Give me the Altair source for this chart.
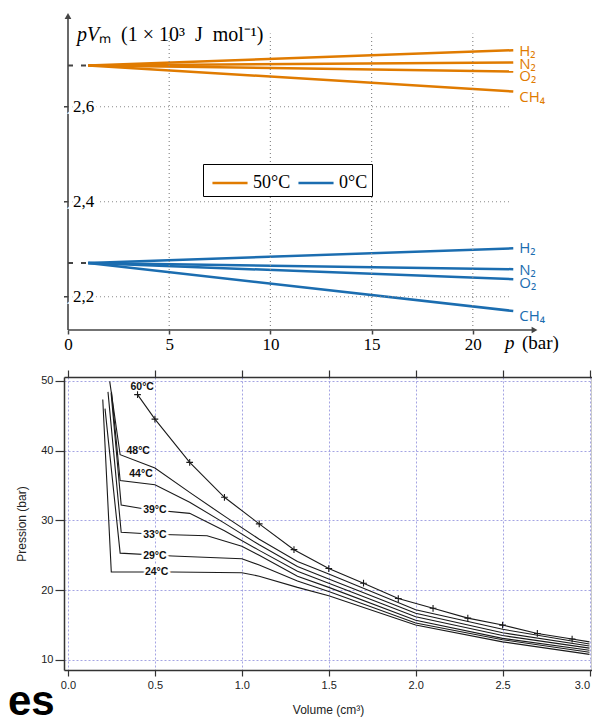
import altair as alt
import pandas as pd

SERIF = "Liberation Serif"
SANS = "Liberation Sans"
ORANGE = "#E07B00"
BLUE = "#1B6DB0"
AXIS_GREY = "#444444"
CURVE = "#1a1a1a"
GRID_BLUE = "#9a9ae0"

# ---------------- top chart data ----------------
temps = ["50°C", "0°C"]
gases = ["H₂", "N₂", "O₂", "CH₄"]
p_start = 1.0
p_end = 22.0
pv_start = [2.687, 2.271]
pv_end_50 = [2.719, 2.693, 2.674, 2.632]
pv_end_0 = [2.302, 2.258, 2.237, 2.170]
label_pv_50 = [2.718, 2.690, 2.665, 2.621]
label_pv_0 = [2.302, 2.256, 2.229, 2.159]
top_x_ticks = [0, 5, 10, 15, 20]
top_y_ticks = [2.2, 2.4, 2.6]
top_y_tick_text = ["2,2", "2,4", "2,6"]

# ---------------- bottom chart data ----------------
iso_names = ["60°C", "48°C", "44°C", "39°C", "33°C", "29°C", "24°C"]
v_60 = [0.40, 0.50, 0.70, 0.90, 1.10, 1.30, 1.50, 1.70, 1.90, 2.10, 2.30, 2.50, 2.70, 2.90, 3.00]
p_60 = [48.0, 44.5, 38.3, 33.3, 29.5, 25.8, 23.1, 21.0, 18.8, 17.4, 16.0, 15.0, 13.8, 13.0, 12.6]
v_48 = [0.24, 0.30, 0.50, 0.70, 0.90, 1.10, 1.32, 1.50, 2.00, 2.50, 3.00]
p_48 = [49.9, 39.4, 37.5, 34.0, 30.6, 27.3, 24.1, 22.3, 17.2, 14.4, 12.3]
v_44 = [0.25, 0.30, 0.50, 0.70, 0.90, 1.10, 1.32, 1.50, 2.00, 2.50, 3.00]
p_44 = [48.4, 35.7, 35.1, 32.6, 29.6, 26.5, 23.4, 21.6, 16.7, 13.9, 12.0]
v_39 = [0.248, 0.306, 0.45, 0.70, 0.90, 1.10, 1.32, 1.50, 2.00, 2.50, 3.00]
p_39 = [48.2, 32.2, 31.6, 31.0, 28.5, 25.7, 22.7, 21.0, 16.2, 13.5, 11.7]
v_33 = [0.23, 0.306, 0.50, 0.80, 1.00, 1.10, 1.32, 1.50, 2.00, 2.50, 3.00]
p_33 = [48.4, 28.3, 28.0, 27.8, 26.3, 25.0, 22.0, 20.4, 15.7, 13.1, 11.4]
v_29 = [0.213, 0.30, 0.60, 1.00, 1.10, 1.32, 1.50, 2.00, 2.50, 3.00]
p_29 = [46.0, 25.3, 24.9, 24.5, 23.6, 21.3, 19.8, 15.3, 12.9, 11.1]
v_24 = [0.20, 0.249, 0.60, 1.00, 1.10, 1.32, 1.50, 2.00, 2.50, 3.00]
p_24 = [47.3, 22.6, 22.6, 22.5, 22.0, 20.4, 19.2, 15.0, 12.6, 10.8]
iso_v = [v_60, v_48, v_44, v_39, v_33, v_29, v_24]
iso_p = [p_60, p_48, p_44, p_39, p_33, p_29, p_24]
marker_v = v_60[:-1]
marker_p = p_60[:-1]
iso_label_v = [0.427, 0.404, 0.42, 0.50, 0.50, 0.50, 0.51]
iso_label_p = [49.1, 40.0, 36.6, 31.5, 27.9, 24.9, 22.55]
iso_label_halo = [False, False, False, True, True, True, True]
vol_ticks = [0.0, 0.5, 1.0, 1.5, 2.0, 2.5, 3.0]
pres_ticks = [10, 20, 30, 40, 50]

W = 528

# ---------------- top chart ----------------
xs_top = alt.Scale(domain=[-0.1976, -0.1976 + W / 20.24], nice=False, zero=False)
ys_top = alt.Scale(domain=[2.13, 2.8079], nice=False, zero=False)

TOP_X_AXIS = alt.Axis(
    orient="bottom", values=top_x_ticks, domain=False, grid=False, ticks=True, tickSize=4,
    tickColor=AXIS_GREY, tickWidth=1.5, labelFont=SERIF, labelFontSize=17,
    labelColor="black", labelPadding=2, title=None, format="d")

rows = []
for ti, t in enumerate(temps):
    ends = pv_end_50 if ti == 0 else pv_end_0
    for g, e in zip(gases, ends):
        rows.append({"temp": t, "gas": g, "series": t + g, "p": p_start, "pv": pv_start[ti]})
        rows.append({"temp": t, "gas": g, "series": t + g, "p": p_end, "pv": e})
top_lines_df = pd.DataFrame(rows)

lab_rows = []
for ti, t in enumerate(temps):
    labs = label_pv_50 if ti == 0 else label_pv_0
    for g, y in zip(gases, labs):
        lab_rows.append({"temp": t, "gas": g, "p": p_end, "pv": y})
top_labels_df = pd.DataFrame(lab_rows)

color_enc = alt.Color(
    "temp:N",
    scale=alt.Scale(domain=temps, range=[ORANGE, BLUE]),
    legend=alt.Legend(
        orient="none", legendX=139, legendY=156, direction="horizontal", title=None,
        strokeColor="black", fillColor="white", padding=4,
        symbolType="M-1.3,0L1.3,0", symbolSize=729, symbolStrokeWidth=2.5,
        symbolOffset=8, labelOffset=8, labelFont=SERIF, labelFontSize=18,
        labelExpr="datum.label == '0°C' ? '0°C\u00a0\u00a0\u00a0\u00a0\u00a0' : datum.label",
        labelColor="black", columnPadding=2, cornerRadius=0,
    ),
)

def X(field):
    return alt.X(f"{field}:Q", scale=xs_top, axis=TOP_X_AXIS)

def Y(field):
    return alt.Y(f"{field}:Q", scale=ys_top, axis=None)

lines_top = alt.Chart(top_lines_df).mark_line(strokeWidth=2.5).encode(
    x=X("p"), y=Y("pv"), color=color_enc, detail="series:N",
)

grid_v = alt.Chart(pd.DataFrame({"p": top_x_ticks[1:], "y0": 2.13, "y1": 2.754})).mark_rule(
    color="#8a8a8a", strokeDash=[1, 3], strokeWidth=1.2
).encode(x=X("p"), y=Y("y0"), y2="y1:Q")

grid_h = alt.Chart(pd.DataFrame({"pv": top_y_ticks, "x0": -0.1976, "x1": 21.9})).mark_rule(
    color="#8a8a8a", strokeDash=[1, 3], strokeWidth=1.2
).encode(y=Y("pv"), x=X("x0"), x2="x1:Q")

ytick_marks = alt.Chart(pd.DataFrame({"pv": top_y_ticks, "x0": -0.1976, "x1": 0.0})).mark_rule(
    color=AXIS_GREY, strokeWidth=1.5
).encode(y=Y("pv"), x=X("x0"), x2="x1:Q")

stubs = alt.Chart(pd.DataFrame({"pv": pv_start, "x0": 0.0, "x1": p_start})).mark_rule(
    color=AXIS_GREY, strokeWidth=2, strokeDash=[5, 8]
).encode(y=Y("pv"), x=X("x0"), x2="x1:Q")

yaxis_line = alt.Chart(pd.DataFrame({"p": [0.0], "y0": [2.13], "y1": [2.79]})).mark_rule(
    color=AXIS_GREY, strokeWidth=1.6
).encode(x=X("p"), y=Y("y0"), y2="y1:Q")

xaxis_line = alt.Chart(pd.DataFrame({"pv": [2.13], "x0": [0.0], "x1": [23.0]})).mark_rule(
    color=AXIS_GREY, strokeWidth=1.6
).encode(y=Y("pv"), x=X("x0"), x2="x1:Q")

arrows = alt.Chart(pd.DataFrame({"p": [0.0, 23.05], "pv": [2.791, 2.13],
                                 "shape": ["triangle-up", "triangle-right"]})).mark_point(
    filled=True, size=45, color=AXIS_GREY, opacity=1
).encode(x=X("p"), y=Y("pv"), shape=alt.Shape("shape:N", scale=None))

gas_labels = alt.Chart(top_labels_df).mark_text(
    align="left", baseline="middle", dx=6, font="Open Sans", fontSize=15
).encode(x=X("p"), y=Y("pv"), text="gas:N", color=color_enc)

ytick_df = pd.DataFrame({"pv": top_y_ticks, "txt": top_y_tick_text, "p": 0.0})
ytick_halo = alt.Chart(ytick_df).mark_text(
    align="left", baseline="middle", dx=5, font=SERIF, fontSize=17,
    stroke="white", strokeWidth=6, color="white"
).encode(x=X("p"), y=Y("pv"), text="txt:N")
ytick_text = alt.Chart(ytick_df).mark_text(
    align="left", baseline="middle", dx=5, font=SERIF, fontSize=17, color="black"
).encode(x=X("p"), y=Y("pv"), text="txt:N")

ytitle_a = alt.Chart(pd.DataFrame({"p": [0.0], "pv": [2.752], "t": ["pV"]})).mark_text(
    align="left", baseline="middle", dx=9, font=SERIF, fontSize=20, fontStyle="italic", color="black"
).encode(x=X("p"), y=Y("pv"), text="t:N")
ytitle_b = alt.Chart(pd.DataFrame({"p": [0.0], "pv": [2.752],
                                   "t": ["ₘ\u2002(1 × 10³\u2002J\u2002mol⁻¹)"]})).mark_text(
    align="left", baseline="middle", dx=31, font=SERIF, fontSize=20, color="black"
).encode(x=X("p"), y=Y("pv"), text="t:N")

xtitle_a = alt.Chart(pd.DataFrame({"p": [21.59], "pv": [2.1026], "t": ["p"]})).mark_text(
    align="left", baseline="middle", font=SERIF, fontSize=19, fontStyle="italic", color="black"
).encode(x=X("p"), y=Y("pv"), text="t:N")
xtitle_b = alt.Chart(pd.DataFrame({"p": [22.43], "pv": [2.1026], "t": ["(bar)"]})).mark_text(
    align="left", baseline="middle", font=SERIF, fontSize=19, color="black"
).encode(x=X("p"), y=Y("pv"), text="t:N")

top = alt.layer(
    lines_top, grid_v, grid_h, ytick_marks, stubs, yaxis_line, xaxis_line, arrows,
    gas_labels, ytick_halo, ytick_text, ytitle_a, ytitle_b, xtitle_a, xtitle_b,
).properties(width=W, height=322)

# ---------------- bottom chart ----------------
s_bot = (589.5 - 68) / 3.0
xs_bot = alt.Scale(domain=[-4 / s_bot, -4 / s_bot + W / s_bot], nice=False, zero=False)
ys_bot = alt.Scale(domain=[8.567, 50.53], nice=False, zero=False)

crow = []
for name, vs, ps in zip(iso_names, iso_v, iso_p):
    for i, (v, p) in enumerate(zip(vs, ps)):
        crow.append({"name": name, "idx": i, "V": v, "P": p})
curves_df = pd.DataFrame(crow)

curves = alt.Chart(curves_df).mark_line(color=CURVE, strokeWidth=1.1).encode(
    x=alt.X("V:Q", scale=xs_bot, axis=alt.Axis(
        values=vol_ticks, format=".1f", tickSize=6, tickColor="#333", tickWidth=1.2,
        domainColor="#333", domainWidth=1.5, labelFont=SANS, labelFontSize=11,
        labelColor="#222", labelPadding=3, labelFlush=3, grid=True, gridColor=GRID_BLUE,
        gridDash=[2, 2], gridWidth=0.9, title="Volume (cm³)", titleFont=SANS,
        titleFontSize=12, titleFontWeight="normal", titleColor="#222", titlePadding=14)),
    y=alt.Y("P:Q", scale=ys_bot, axis=alt.Axis(
        values=pres_ticks, tickSize=9, tickColor="#333", tickWidth=1.2,
        domainColor="#333", domainWidth=1.5, labelFont=SANS, labelFontSize=11,
        labelColor="#222", labelPadding=2, grid=True, gridColor=GRID_BLUE,
        gridDash=[2, 2], gridWidth=0.9, title="Pression (bar)", titleFont=SANS,
        titleFontSize=12, titleFontWeight="normal", titleColor="#222", titlePadding=12)),
    detail="name:N",
    order="idx:Q",
)

markers = alt.Chart(pd.DataFrame({"V": marker_v, "P": marker_p})).mark_point(
    shape="M-1,0L1,0M0,-1L0,1", size=45, color=CURVE, strokeWidth=1.1, filled=False, opacity=1
).encode(
    x=alt.X("V:Q", scale=xs_bot, axis=alt.Axis(
        orient="top", values=vol_ticks, labels=False, tickSize=7, tickColor="#333",
        tickWidth=1.2, domainColor="#333", domainWidth=1.5, grid=False, title=None)),
    y=alt.Y("P:Q", scale=ys_bot, axis=alt.Axis(
        orient="right", values=pres_ticks, labels=False, ticks=False,
        domainColor="#333", domainWidth=1.5, grid=False, title=None)),
)

iso_lab_df = pd.DataFrame({"V": iso_label_v, "P": iso_label_p, "t": iso_names, "halo": iso_label_halo})

iso_halo = alt.Chart(iso_lab_df).transform_filter("datum.halo").mark_text(
    align="center", baseline="middle", font=SANS, fontSize=10.5, fontWeight="bold",
    stroke="white", strokeWidth=4, color="white"
).encode(x=alt.X("V:Q", scale=xs_bot, axis=None), y=alt.Y("P:Q", scale=ys_bot, axis=None), text="t:N")

iso_text = alt.Chart(iso_lab_df).mark_text(
    align="center", baseline="middle", font=SANS, fontSize=10.5, fontWeight="bold", color="#111"
).encode(x=alt.X("V:Q", scale=xs_bot, axis=None), y=alt.Y("P:Q", scale=ys_bot, axis=None), text="t:N")

es_text = alt.Chart(pd.DataFrame({"V": [-60 / s_bot], "P": [2.12], "t": ["es"]})).mark_text(
    align="left", baseline="alphabetic", font=SANS, fontSize=42, fontWeight="bold", color="black"
).encode(x=alt.X("V:Q", scale=xs_bot, axis=None), y=alt.Y("P:Q", scale=ys_bot, axis=None), text="t:N")

bottom = alt.layer(curves, markers, iso_halo, iso_text, es_text).resolve_axis(
    x="independent", y="independent"
).properties(width=W, height=293)

chart = alt.vconcat(top, bottom, spacing=47, bounds="flush").resolve_scale(
    color="independent"
).properties(
    padding={"left": 0, "top": 0, "right": 0, "bottom": 0}, background="white"
).configure_view(stroke=None)

chart.save("out.html", embed_options={"renderer": "svg", "actions": False})
